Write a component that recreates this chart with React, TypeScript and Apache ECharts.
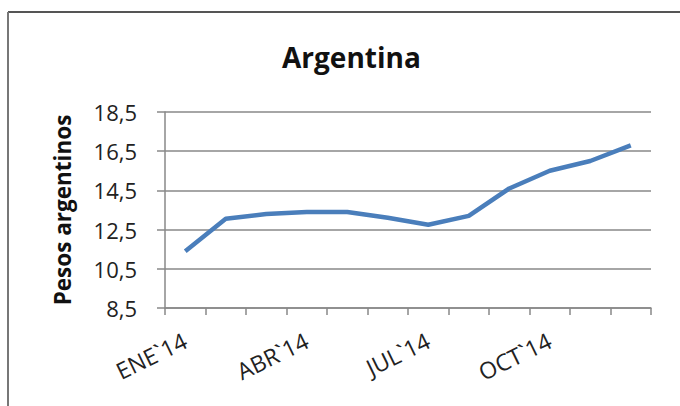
import React, { useEffect, useRef } from "react";
import * as echarts from "echarts";

// Monthly values for 2014 (pesos argentinos)
const months = ["ENE`14", "FEB`14", "MAR`14", "ABR`14", "MAY`14", "JUN`14", "JUL`14", "AGO`14", "SEP`14", "OCT`14", "NOV`14", "DIC`14"];
const values = [11.4, 13.05, 13.3, 13.4, 13.4, 13.1, 12.75, 13.2, 14.6, 15.5, 16.0, 16.8];
const yTicks = [8.5, 10.5, 12.5, 14.5, 16.5, 18.5];

const FONT = "'Open Sans', 'Noto Sans', sans-serif";

export default function App() {
  const ref = useRef<HTMLDivElement>(null);

  useEffect(() => {
    if (!ref.current) return;
    const chart = echarts.init(ref.current, null, { renderer: "svg" });
    chart.setOption({
      animation: false,
      backgroundColor: "#ffffff",
      title: {
        text: "Argentina",
        left: 277,
        top: 38,
        textStyle: { fontFamily: FONT, fontSize: 28, fontWeight: "bold", color: "#111" },
      },
      graphic: [
        { type: "line", shape: { x1: 8, y1: 12, x2: 680, y2: 12 }, style: { stroke: "#555", lineWidth: 2 } },
        { type: "line", shape: { x1: 8, y1: 12, x2: 8, y2: 406 }, style: { stroke: "#777", lineWidth: 2 } },
      ],
      grid: { left: 165, right: 29, top: 112, bottom: 98 },
      xAxis: {
        type: "category",
        data: months,
        boundaryGap: true,
        axisLine: { lineStyle: { color: "#888", width: 1.5 } },
        axisTick: { show: true, interval: 0, length: 7, lineStyle: { color: "#888", width: 1.5 } },
        axisLabel: {
          interval: 2,
          rotate: 26,
          margin: 31,
          fontFamily: FONT,
          fontSize: 23,
          color: "#222",
        },
      },
      yAxis: {
        type: "value",
        min: yTicks[0],
        max: yTicks[yTicks.length - 1],
        interval: 2,
        name: "Pesos argentinos",
        nameLocation: "middle",
        nameGap: 91,
        nameRotate: 90,
        nameTextStyle: { fontFamily: FONT, fontSize: 22.5, fontWeight: "bold", color: "#111" },
        axisLine: { show: true, lineStyle: { color: "#888", width: 1.5 } },
        axisTick: { show: true, length: 8, lineStyle: { color: "#888", width: 1.5 } },
        splitLine: { lineStyle: { color: "#888", width: 1.5 } },
        axisLabel: {
          margin: 28,
          fontFamily: FONT,
          fontSize: 22,
          color: "#222",
          formatter: (v: number) => v.toFixed(1).replace(".", ","),
        },
      },
      series: [
        {
          type: "line",
          data: values,
          symbol: "none",
          lineStyle: { color: "#4a7ebb", width: 4.5 },
        },
      ],
    });
    return () => chart.dispose();
  }, []);

  return <div ref={ref} style={{ width: 680, height: 406, position: "absolute", left: 0, top: 0 }} />;
}
